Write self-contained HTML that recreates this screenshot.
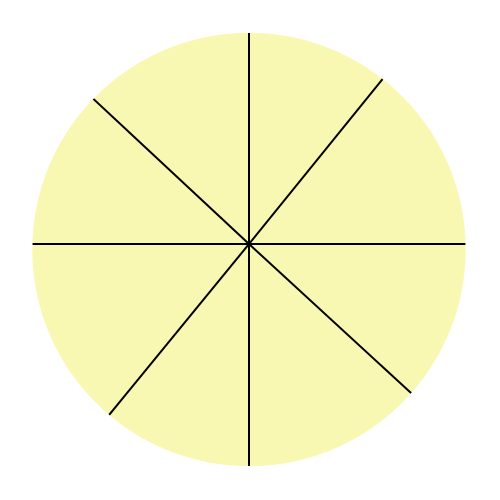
<!DOCTYPE html>
<html>
<head>
<meta charset="utf-8">
<style>
html,body{margin:0;padding:0;background:#fff;}
svg{display:block;}
</style>
</head>
<body>
<svg id="chart" width="500" height="500" viewBox="0 0 500 500" xmlns="http://www.w3.org/2000/svg">
<g id="slices"></g>
</svg>
<script>
const categories = ["A","B","C","D","E","F","G","H"];
const values = [39, 51, 42.6, 47.4, 39.3, 50.7, 43, 47];

const cx = 249, cy = 249.5, r = 216.5;
const hx = 249, hy = 244;
const g = document.getElementById('slices');
const total = values.reduce((a,b)=>a+b,0);
function pt(a){
  const rad = a*Math.PI/180;
  const dx = Math.sin(rad), dy = -Math.cos(rad);
  const ox = hx - cx, oy = hy - cy;
  const b = ox*dx + oy*dy;
  const c = ox*ox + oy*oy - r*r;
  const t = -b + Math.sqrt(b*b - c);
  return [hx + t*dx, hy + t*dy];
}
let start = 0;
values.forEach((v,i)=>{
  const sweep = v/total*360;
  const end = start + sweep;
  const p0 = pt(start), p1 = pt(end);
  const large = sweep > 180 ? 1 : 0;
  const path = document.createElementNS('http://www.w3.org/2000/svg','path');
  path.setAttribute('d', `M${hx},${hy} L${p0[0]},${p0[1]} A${r},${r} 0 ${large} 1 ${p1[0]},${p1[1]} Z`);
  path.setAttribute('fill', '#f9f8b3');
  path.setAttribute('stroke', '#f9f8b3');
  path.setAttribute('stroke-width', '0.5');
  
  
  g.appendChild(path);
  start = end;
});
start = 0;
values.forEach((v,i)=>{
  const p0 = pt(start);
  const line = document.createElementNS('http://www.w3.org/2000/svg','line');
  line.setAttribute('x1', hx); line.setAttribute('y1', hy);
  line.setAttribute('x2', p0[0]); line.setAttribute('y2', p0[1]);
  line.setAttribute('stroke', '#000'); line.setAttribute('stroke-width', '2');
  
  
  g.appendChild(line);
  start += v/total*360;
});
</script>
</body>
</html>
